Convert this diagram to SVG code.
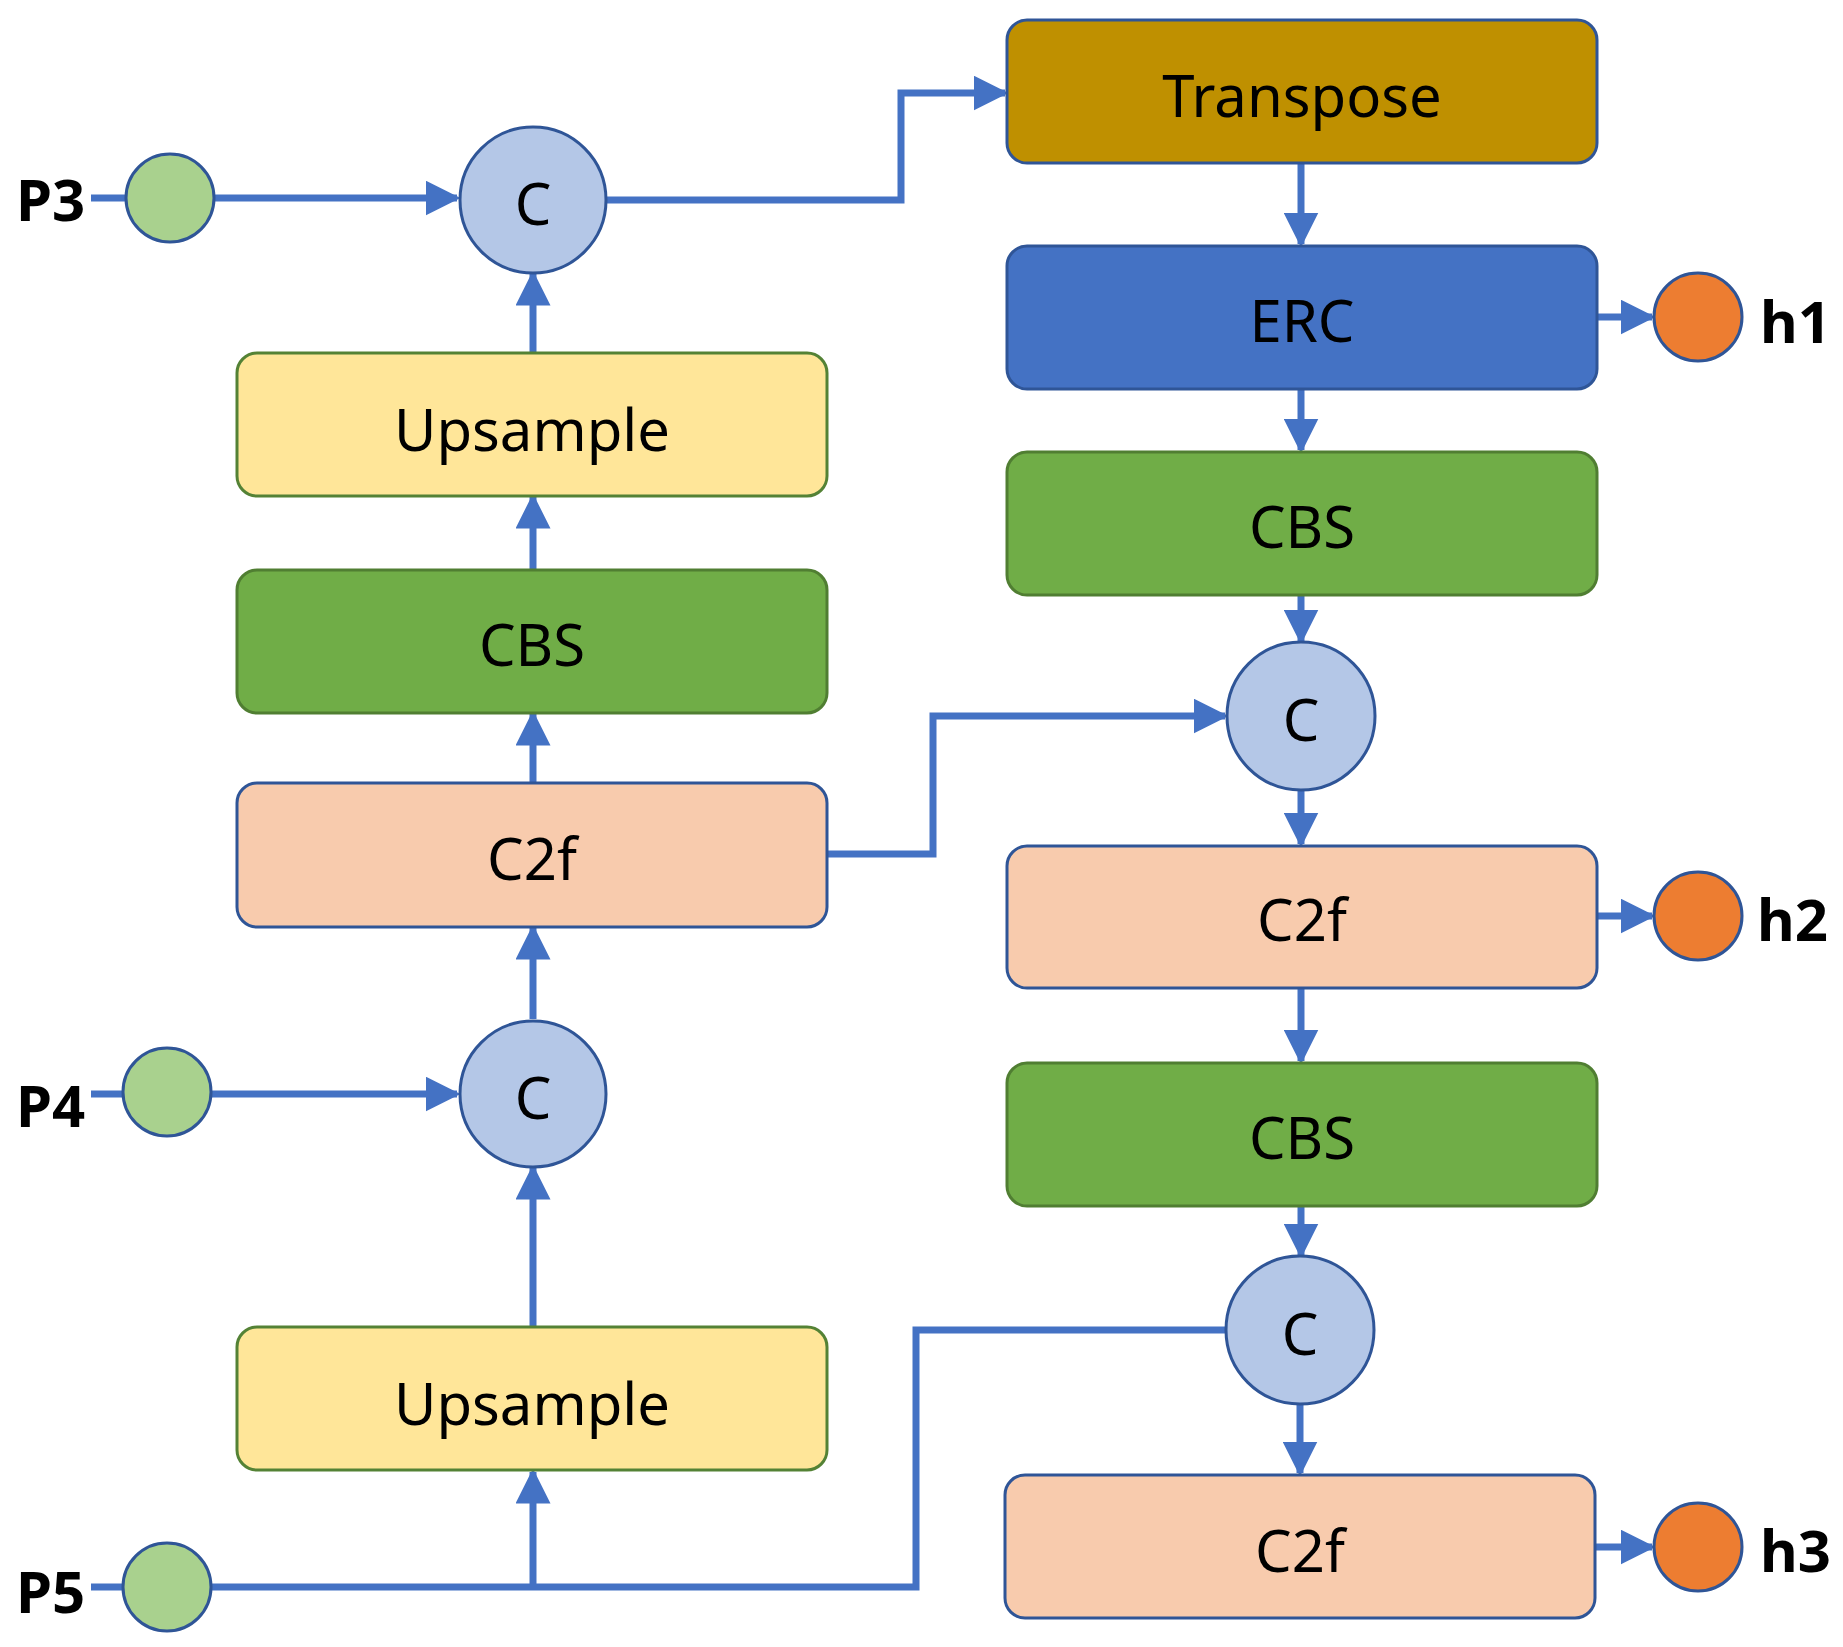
<svg xmlns="http://www.w3.org/2000/svg" width="1843" height="1647" viewBox="0 0 1843 1647">
<defs>
<marker id="a" viewBox="0 0 10 10" refX="9" refY="5" markerWidth="5" markerHeight="5" markerUnits="strokeWidth" orient="auto"><path d="M0,0L10,5L0,10z" fill="#4472C4"/></marker>
<style>
.b{stroke-width:3}
.t{font-family:"Noto Sans","DejaVu Sans",sans-serif;font-size:58px;text-anchor:middle;dominant-baseline:central;fill:#000}
.l{font-family:"Noto Sans","DejaVu Sans",sans-serif;font-size:58px;font-weight:bold;dominant-baseline:central;fill:#000}
.c{stroke:#4472C4;stroke-width:7;fill:none}
.ca{stroke:#4472C4;stroke-width:7;fill:none;marker-end:url(#a)}
</style>
</defs>
<g id="connectors">
<path class="ca" d="M91,198H457"/>
<path class="ca" d="M91,1094H457"/>
<path class="c" d="M91,1587H916V1330H1226"/>
<path class="ca" d="M533,1587V1472"/>
<path class="ca" d="M533,1327V1168"/>
<path class="ca" d="M533,1019V928"/>
<path class="ca" d="M533,783V714"/>
<path class="ca" d="M533,570V497"/>
<path class="ca" d="M533,353V274"/>
<path class="ca" d="M606,200H901V93H1005"/>
<path class="ca" d="M827,854H933V716H1225"/>
<path class="ca" d="M1301,163V244"/>
<path class="ca" d="M1301,389V450"/>
<path class="ca" d="M1301,595V641"/>
<path class="ca" d="M1301,790V844"/>
<path class="ca" d="M1301,988V1061"/>
<path class="ca" d="M1301,1206V1255"/>
<path class="ca" d="M1300,1404V1473"/>
<path class="ca" d="M1597,317H1652"/>
<path class="ca" d="M1597,916H1652"/>
<path class="ca" d="M1595,1547H1652"/>
</g>
<g id="P3"><circle cx="170" cy="198" r="44" fill="#A9D18E" stroke="#2F5597" class="b"/><text class="l" x="16" y="198">P3</text></g>
<g id="P4"><circle cx="167" cy="1092" r="44" fill="#A9D18E" stroke="#2F5597" class="b"/><text class="l" x="16" y="1104">P4</text></g>
<g id="P5"><circle cx="167" cy="1587" r="44" fill="#A9D18E" stroke="#2F5597" class="b"/><text class="l" x="16" y="1590">P5</text></g>
<g id="C1"><circle cx="533" cy="200" r="73" fill="#B4C7E7" stroke="#2F5597" class="b"/><text class="t" x="533" y="202">C</text></g>
<g id="C2"><circle cx="533" cy="1094" r="73" fill="#B4C7E7" stroke="#2F5597" class="b"/><text class="t" x="533" y="1096">C</text></g>
<g id="up1"><rect x="237" y="353" width="590" height="143" rx="20" fill="#FFE699" stroke="#548235" class="b"/><text class="t" x="532" y="428">Upsample</text></g>
<g id="cbs1"><rect x="237" y="570" width="590" height="143" rx="20" fill="#70AD47" stroke="#507E32" class="b"/><text class="t" x="532" y="643">CBS</text></g>
<g id="c2f1"><rect x="237" y="783" width="590" height="144" rx="20" fill="#F8CBAD" stroke="#2F5597" class="b"/><text class="t" x="532" y="857">C2f</text></g>
<g id="up2"><rect x="237" y="1327" width="590" height="143" rx="20" fill="#FFE699" stroke="#548235" class="b"/><text class="t" x="532" y="1402">Upsample</text></g>
<g id="transpose"><rect x="1007" y="20" width="590" height="143" rx="20" fill="#BF9000" stroke="#2F5597" class="b"/><text class="t" x="1302" y="94">Transpose</text></g>
<g id="erc"><rect x="1007" y="246" width="590" height="143" rx="20" fill="#4472C4" stroke="#2F5597" class="b"/><text class="t" x="1302" y="319">ERC</text></g>
<g id="cbs2"><rect x="1007" y="452" width="590" height="143" rx="20" fill="#70AD47" stroke="#507E32" class="b"/><text class="t" x="1302" y="525">CBS</text></g>
<g id="C3"><circle cx="1301" cy="716" r="74" fill="#B4C7E7" stroke="#2F5597" class="b"/><text class="t" x="1301" y="718">C</text></g>
<g id="c2f2"><rect x="1007" y="846" width="590" height="142" rx="20" fill="#F8CBAD" stroke="#2F5597" class="b"/><text class="t" x="1302" y="918">C2f</text></g>
<g id="cbs3"><rect x="1007" y="1063" width="590" height="143" rx="20" fill="#70AD47" stroke="#507E32" class="b"/><text class="t" x="1302" y="1136">CBS</text></g>
<g id="C4"><circle cx="1300" cy="1330" r="74" fill="#B4C7E7" stroke="#2F5597" class="b"/><text class="t" x="1300" y="1332">C</text></g>
<g id="c2f3"><rect x="1005" y="1475" width="590" height="143" rx="20" fill="#F8CBAD" stroke="#2F5597" class="b"/><text class="t" x="1300" y="1549">C2f</text></g>
<g id="h1"><circle cx="1698" cy="317" r="44" fill="#ED7D31" stroke="#2F5597" class="b"/><text class="l" x="1760" y="320">h1</text></g>
<g id="h2"><circle cx="1698" cy="916" r="44" fill="#ED7D31" stroke="#2F5597" class="b"/><text class="l" x="1757" y="918">h2</text></g>
<g id="h3"><circle cx="1698" cy="1547" r="44" fill="#ED7D31" stroke="#2F5597" class="b"/><text class="l" x="1760" y="1549">h3</text></g>
</svg>
